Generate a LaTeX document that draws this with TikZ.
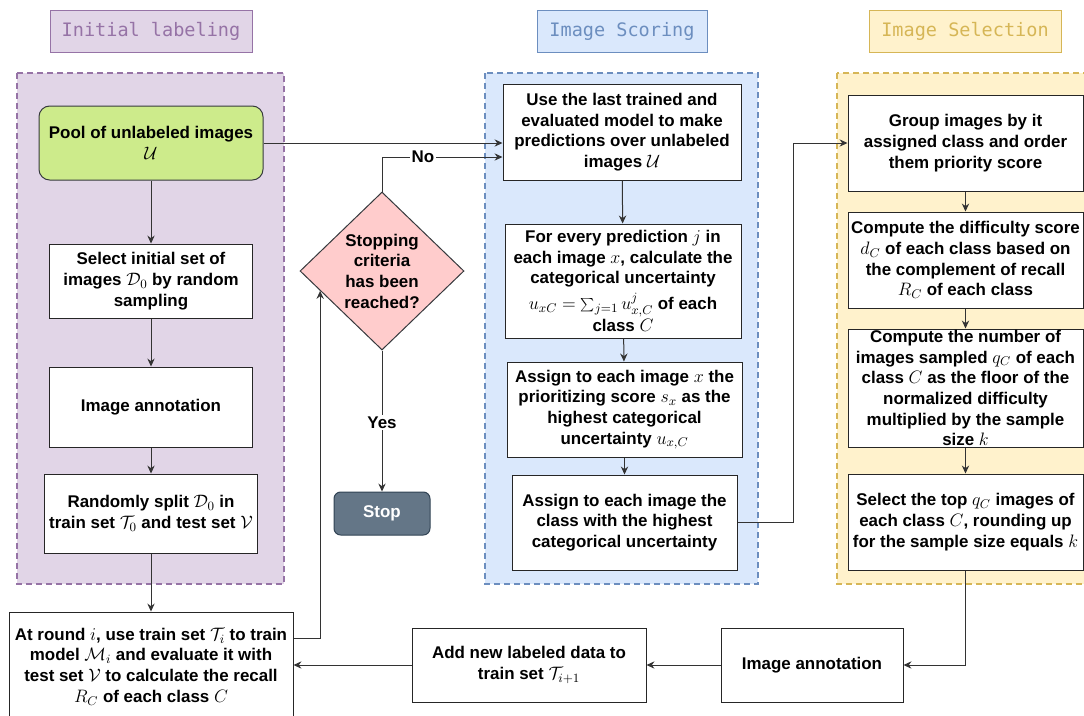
\RequirePackage{fix-cm}
\documentclass[tikz,border=0pt]{standalone}
\usepackage{fontspec}
\setmainfont{Liberation Sans}
\newfontfamily\titlefont{DejaVu Sans Mono}
\DeclareMathSizes{12.7}{13.5}{9.5}{7}
\usetikzlibrary{shapes.geometric,arrows.meta,calc}
\definecolor{purpF}{HTML}{E1D5E7}
\definecolor{purpS}{HTML}{9673A6}
\definecolor{blueF}{HTML}{DAE8FC}
\definecolor{blueS}{HTML}{6C8EBF}
\definecolor{yelF}{HTML}{FFF2CC}
\definecolor{yelS}{HTML}{D6B656}
\definecolor{greenF}{HTML}{CDEB8B}
\definecolor{darkS}{HTML}{36393D}
\definecolor{redF}{HTML}{FFCCCC}
\definecolor{stopF}{HTML}{647687}
\definecolor{stopS}{HTML}{314354}
\definecolor{lineC}{HTML}{333333}
\begin{document}
\begin{tikzpicture}[x=0.75pt,y=-0.75pt,
  font=\fontsize{12.7}{15.5}\selectfont\bfseries,
  box/.style={draw=black!85, line width=0.75pt, fill=white, align=center, inner sep=2pt},
  titlebox/.style={draw=#1S, fill=#1F, text=#1S, line width=0.75pt,
    font=\titlefont\mdseries\fontsize{13.9}{16}\selectfont, minimum height=31.5pt},
  cont/.style={draw=#1S, fill=#1F, line width=1.5pt, dash pattern=on 4.5pt off 3pt},
  arr/.style={draw=lineC, line width=0.75pt, -{Stealth[length=6pt,width=5.5pt,inset=2pt]}},
  lbl/.style={fill=white, inner sep=1pt}]
\useasboundingbox (0,0) rectangle (1084,715);

% containers
\draw[cont=purp] (17,73) rectangle (284,584);
\draw[cont=blue] (485,73) rectangle (758,584);
\draw[cont=yel] (837,73) rectangle (1092,584);

% titles
\node[titlebox=purp, minimum width=151.5pt] (t1) at (151,31) {Initial labeling};
\node[titlebox=blue, minimum width=127.5pt] (t2) at (622,31) {Image Scoring};
\node[titlebox=yel, minimum width=144pt] (t3) at (965,31) {Image Selection};

% left column
\node[box, fill=greenF, draw=darkS, rounded corners=8pt, minimum width=168pt, minimum height=55.5pt] (pool) at (151,143)
  {Pool of unlabeled images\\ $\mathcal{U}$};
\node[box, minimum width=152.25pt, minimum height=55.5pt] (select) at (151,281)
  {Select initial set of\\ images $\mathcal{D}_0$ by random\\ sampling};
\node[box, minimum width=152.25pt, minimum height=60pt] (annot1) at (151,407)
  {Image annotation};
\node[box, minimum width=159.75pt, minimum height=59.25pt] (split) at (151,513.5)
  {Randomly split $\mathcal{D}_0$ in\\ train set $\mathcal{T}_0$ and test set $\mathcal{V}$};
\node[box, minimum width=213pt, minimum height=81.75pt] (atround) at (151,666.5)
  {At round $i$, use train set $\mathcal{T}_i$ to train\\ model $\mathcal{M}_i$ and evaluate it with\\ test set $\mathcal{V}$ to calculate the recall\\ $R_C$ of each class $C$};

% decision and stop
\node[diamond, draw=darkS, fill=redF, line width=0.75pt, inner sep=0pt, align=center,
  minimum width=123pt, minimum height=118.5pt] (dec) at (382,271)
  {Stopping\\ criteria\\ has been\\ reached?};
\node[box, fill=stopF, draw=stopS, text=white, rounded corners=5pt, minimum width=72pt, minimum height=32.25pt] (stop) at (382,513.5) {Stop};

% blue column
\node[box, minimum width=178.5pt, minimum height=72pt] (use) at (622,132)
  {Use the last trained and\\ evaluated model to make\\ predictions over unlabeled\\ images $\mathcal{U}$};
\node[box, inner ysep=0pt, minimum width=177pt, minimum height=85.5pt] (every) at (623,281)
  {For every prediction $j$ in\\ each image $x$, calculate the\\ categorical uncertainty\\[4pt] $u_{xC}=\sum_{j=1}u^{j}_{x,C}$ of each\\[1pt] class $C$};
\node[box, minimum width=176.25pt, minimum height=71.25pt] (assignx) at (624.5,409.5)
  {Assign to each image $x$ the\\ prioritizing score $s_x$ as the\\ highest categorical\\ uncertainty $u_{x,C}$};
\node[box, minimum width=168.75pt, minimum height=71.25pt] (assignc) at (624.5,522.5)
  {Assign to each image the\\ class with the highest\\ categorical uncertainty};

% yellow column
\node[box, minimum width=176.25pt, minimum height=72pt] (group) at (965.5,143)
  {Group images by it\\ assigned class and order\\ them priority score};
\node[box, minimum width=176.25pt, minimum height=72pt] (diff) at (965.5,260)
  {Compute the difficulty score\\ $d_C$ of each class based on\\ the complement of recall\\ $R_C$ of each class};
\node[box, inner ysep=0pt, minimum width=176.25pt, minimum height=88.5pt] (num) at (965.5,388)
  {Compute the number of\\ images sampled $q_C$ of each\\ class $C$ as the floor of the\\ normalized difficulty\\ multiplied by the sample\\ size $k$};
\node[box, minimum width=176.25pt, minimum height=72pt] (sel) at (965.5,522)
  {Select the top $q_C$ images of\\ each class $C$, rounding up\\ for the sample size equals $k$};

% bottom row
\node[box, minimum width=136.5pt, minimum height=55.5pt] (annot2) at (812,665) {Image annotation};
\node[box, minimum width=175.5pt, minimum height=55.5pt] (addnew) at (529,665)
  {Add new labeled data to\\ train set $\mathcal{T}_{i+1}$};

% connectors
\draw[arr] (pool) -- (select);
\draw[arr] (select) -- (annot1);
\draw[arr] (annot1) -- (split);
\draw[arr] (split) -- (atround);
\draw[arr] (pool.east) -- (pool.east -| use.west);
\draw[arr] (dec.north) |- node[pos=0.67, lbl] {No} ($(use.west)+(0,25)$);
\draw[arr] (dec.south) -- node[pos=0.51, lbl] {Yes} (stop.north);
\draw[arr] ($(atround.east)+(0,-28.5)$) -| ($(dec.west)!0.25!(dec.south)$);
\draw[arr] (use) -- (every);
\draw[arr] (every) -- (assignx);
\draw[arr] (assignx) -- (assignc);
\draw[arr] (assignc.east) -- ++(56,0) |- (group.west);
\draw[arr] (group) -- (diff);
\draw[arr] (diff) -- (num);
\draw[arr] (num) -- (sel);
\draw[arr] (sel.south) |- (annot2.east);
\draw[arr] (annot2.west) -- (addnew.east);
\draw[arr] (addnew.west) -- (addnew.west -| atround.east);
\end{tikzpicture}
\end{document}
